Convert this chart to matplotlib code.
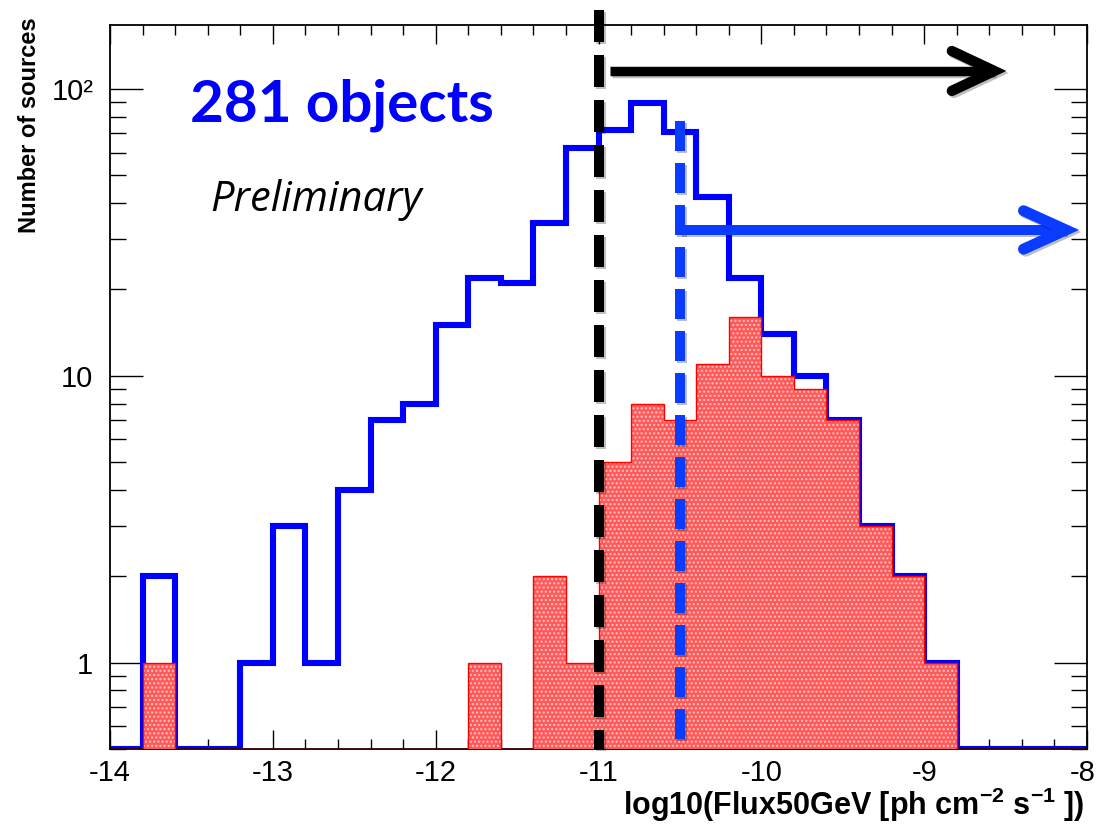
import numpy as np
import matplotlib
matplotlib.use('Agg')
import matplotlib.pyplot as plt
import matplotlib.transforms as mtransforms
import matplotlib.patheffects as pe
from matplotlib.ticker import LogLocator, NullFormatter, FixedLocator, MultipleLocator

# log10 flux bins, 0.2 wide
edges = np.round(np.arange(-14.0, -8.0 + 1e-9, 0.2), 1)

# all sources (blue outline)
n_all = [0, 2, 0, 0, 1, 3, 1, 4, 7, 8,
         15, 22, 21, 34, 62, 72, 89, 71, 42, 22,
         14, 10, 7, 3, 2, 1, 0, 0, 0, 0]
# sub-sample (red filled)
n_sub = [0, 1, 0, 0, 0, 0, 0, 0, 0, 0,
         0, 1, 0, 2, 1, 5, 8, 7, 11, 16,
         10, 9, 7, 3, 2, 1, 0, 0, 0, 0]

ymin, ymax = 0.5, 167
flux_cut = -11.0
flux_cut2 = -10.5

ytick_vals = [1, 10, 100]
ytick_labels = ['1', '10', '10\u00b2']
xtick_vals = [-14, -13, -12, -11, -10, -9, -8]

plt.rcParams['font.family'] = ['Liberation Sans', 'DejaVu Sans']
plt.rcParams['mathtext.fontset'] = 'custom'
plt.rcParams['mathtext.rm'] = 'Liberation Sans:bold'
plt.rcParams['mathtext.bf'] = 'Liberation Sans:bold'
plt.rcParams['hatch.linewidth'] = 1.0

fig = plt.figure(figsize=(10.97, 8.27), dpi=100)
ax = fig.add_axes([0.1003, 0.0943, 0.8906, 0.8755])
ax.set_yscale('log')

# zero bins sit on the floor of the log axis
blue = np.where(np.array(n_all) > 0, n_all, ymin)
red = np.where(np.array(n_sub) > 0, n_sub, ymin)

ax.stairs(blue, edges, baseline=ymin, color='#0000ff', lw=4.4, zorder=2)
ax.stairs(red, edges, baseline=ymin, fill=True, facecolor='#ff5a5a',
          edgecolor='#ffc4c4', hatch='....', lw=0, zorder=3)
ax.stairs(red, edges, baseline=ymin, color='#ff0000', lw=1.0, zorder=4)

trans = mtransforms.blended_transform_factory(ax.transData, ax.transAxes)
shadow = [pe.SimpleLineShadow(offset=(1.5, -1.5), alpha=0.25), pe.Normal()]

# cut lines, drawn top-down so the dash pattern starts at the top
ax.plot([flux_cut2, flux_cut2], [0.867, 0.0], transform=trans, color='#0a3cff',
        lw=7.2, dashes=(3.0, 1.2), dash_capstyle='butt',
        zorder=5, clip_on=False, path_effects=shadow)
ax.plot([flux_cut, flux_cut], [1.021, 0.0], transform=trans, color='black',
        lw=7.2, dashes=(3.2, 1.3), dash_capstyle='butt',
        zorder=6, clip_on=False, path_effects=shadow)

# arrows to the right of each cut
def arrow(x0, x1, xw, y, dy, color, lw):
    ax.plot([x0, x1], [y, y], transform=trans, color=color, lw=lw,
            solid_capstyle='butt', zorder=7, clip_on=False, path_effects=shadow)
    ax.plot([xw, x1, xw], [y + dy, y, y - dy], transform=trans, color=color, lw=lw * 1.1,
            solid_capstyle='round', solid_joinstyle='miter', zorder=7,
            clip_on=False, path_effects=shadow)

arrow(-10.93, -8.57, -8.83, 0.9365, 0.0275, 'black', 6.8)
arrow(flux_cut2, -8.13, -8.39, 0.7169, 0.0265, '#0a3cff', 7.2)

ax.set_xlim(edges[0], edges[-1])
ax.set_ylim(ymin, ymax)

ax.xaxis.set_major_locator(FixedLocator(xtick_vals))
ax.xaxis.set_minor_locator(MultipleLocator(0.2))
ax.set_xticklabels(['%d' % v for v in xtick_vals])
ax.yaxis.set_major_locator(FixedLocator(ytick_vals))
ax.yaxis.set_minor_locator(LogLocator(base=10, subs=np.arange(2, 10)))
ax.yaxis.set_minor_formatter(NullFormatter())
ax.set_yticklabels(ytick_labels)

ax.tick_params(axis='both', which='both', direction='in', top=True, right=True,
               width=1.0, colors='black')
ax.tick_params(axis='x', which='major', length=13.7, labelsize=21, pad=7)
ax.tick_params(axis='x', which='minor', length=7)
ax.tick_params(axis='y', which='major', length=24, labelsize=21, pad=12)
ax.tick_params(axis='y', which='minor', length=11.5)
for s in ax.spines.values():
    s.set_linewidth(1.3)

# keep the last x label inside the canvas
last = ax.get_xticklabels()[-1]
last.set_transform(last.get_transform() +
                   mtransforms.ScaledTranslation(-4 / 100, 0, fig.dpi_scale_trans))

fig.text(1085 / 1097, 1 - 805 / 827,
         r'log10(Flux50GeV [ph cm$^{\mathbf{-2}}$ s$^{\mathbf{-1}}$ ])',
         ha='right', va='center', fontsize=22, fontweight='bold')
fig.text(30 / 1097, 1 - 17 / 827, 'Number of sources', rotation=90,
         ha='center', va='top', fontsize=17, fontweight='bold')

fig.text(190 / 1097, 1 - 122 / 827, '281 objects', color='#0000ff',
         fontsize=42, fontweight='bold', family=['Lato', 'DejaVu Sans'],
         ha='left', va='baseline')
fig.text(210 / 1097, 1 - 211 / 827, 'Preliminary', color='black',
         fontsize=30, style='italic', family=['Open Sans', 'DejaVu Sans'],
         ha='left', va='baseline')

fig.savefig('out.png', dpi=100)
